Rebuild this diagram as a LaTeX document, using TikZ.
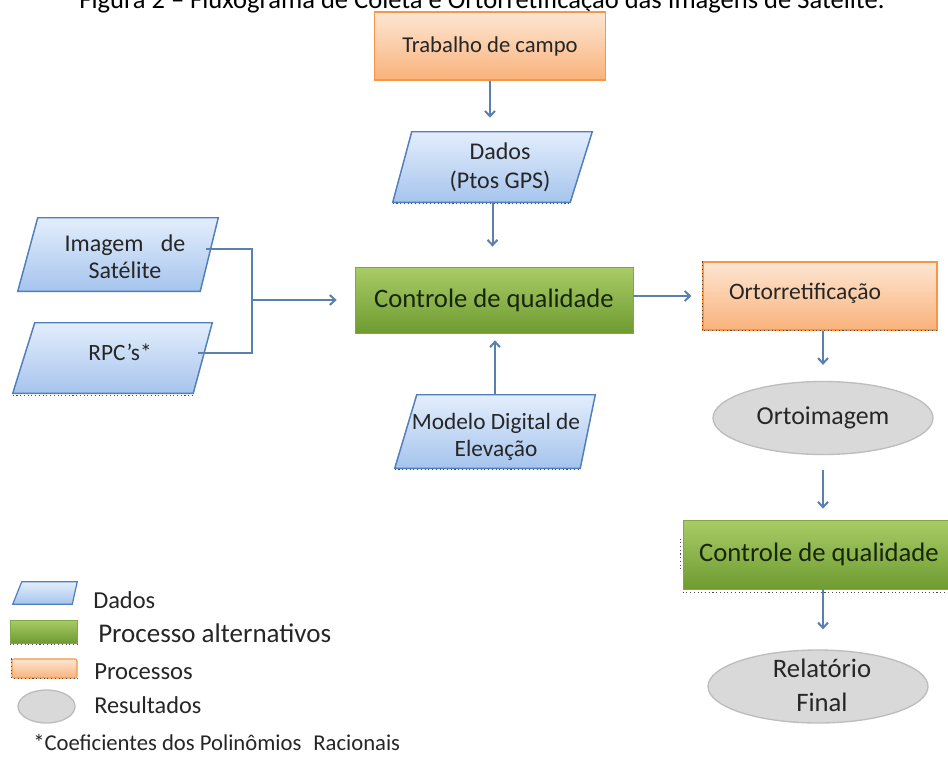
\documentclass[tikz,border=0pt]{standalone}
\usepackage{fontspec}
\setmainfont{Carlito}
\usetikzlibrary{arrows.meta,calc,shapes.geometric}
\definecolor{arrowblue}{HTML}{5A80AF}
\definecolor{bluetop}{HTML}{E3EEFC}
\definecolor{bluebot}{HTML}{A6C4ED}
\definecolor{blueline}{HTML}{4F7FBC}
\definecolor{orgtop}{HTML}{FDE6D3}
\definecolor{orgbot}{HTML}{F9B27B}
\definecolor{orgline}{HTML}{F79646}
\definecolor{grntop}{HTML}{A9CC66}
\definecolor{grnbot}{HTML}{6F9B31}
\definecolor{grnline}{HTML}{7FA843}
\definecolor{grayfill}{HTML}{D9D9D9}
\definecolor{grayline}{HTML}{BDBDBD}
\definecolor{txt}{HTML}{262626}
\definecolor{grntxt}{HTML}{17260A}
\newcommand{\pgshape}[4][1.1pt]{\path[pgfill, line width=#1] (#2.south west) -- ([xshift=-#4]#2.south east) -- (#2.north east) -- ([xshift=#3]#2.north west) -- cycle;}
\begin{document}
\begin{tikzpicture}[x=0.75pt,y=-0.75pt,
  box/.style={rectangle, inner sep=0pt, align=center, text=txt},
  procbox/.style={box, top color=orgtop, bottom color=orgbot, draw=orgline, line width=1.2pt},
  altbox/.style={box, top color=grntop, bottom color=grnbot, draw=grnline, line width=0.6pt, text=grntxt},
  resbox/.style={ellipse, inner sep=0pt, align=center, text=txt, fill=grayfill, draw=grayline, line width=1pt},
  pgbox/.style={rectangle, inner sep=0pt, draw=none},
  pgfill/.style={top color=bluetop, bottom color=bluebot, draw=blueline},
  dtext/.style={inner sep=0pt, align=center, text=txt, font=\fontsize{18pt}{21.75pt}\selectfont},
  arr/.style={draw=arrowblue, line width=1.5pt, -{Straight Barb[length=4pt,width=7.5pt]}},
  conn/.style={draw=arrowblue, line width=1.5pt},
  dotline/.style={draw=black!70, line width=0.7pt, dash pattern=on 0.8pt off 2pt},
  lbl/.style={inner sep=0pt, anchor=west, text=txt}
]
\useasboundingbox (0,0) rectangle (948,760);
\clip (0,0) rectangle (948,760);
\fill[white] (0,0) rectangle (948,760);

% title (cut by the top edge)
\node[anchor=base, inner sep=0pt, text=black, font=\fontsize{19.9pt}{24pt}\selectfont] (title) at (482,8) {Figura 2 – Fluxograma de Coleta e Ortorretificação das Imagens de Satélite.};

% central column
\node[procbox, minimum width=173.25pt, minimum height=51pt, font=\fontsize{17pt}{20pt}\selectfont] (trab) at (490,46) {Trabalho de campo};

\node[pgbox, minimum width=149.25pt, minimum height=52.5pt] (gps) at (492.5,167) {};
\pgshape{gps}{14.25pt}{16.5pt}
\node[dtext] (gpst) at (500,167.5) {Dados\\(Ptos GPS)};

\node[altbox, minimum width=208.5pt, minimum height=49.5pt, font=\fontsize{20pt}{24pt}\selectfont] (cq1) at (494,300) {Controle de qualidade};

\node[pgbox, minimum width=150pt, minimum height=54.75pt] (mde) at (495,431.5) {};
\pgshape{mde}{16.5pt}{11.25pt}
\node[dtext, font=\fontsize{17.5pt}{20.25pt}\selectfont] (mdet) at (496,436.5) {Modelo Digital de\\Elevação};

% left inputs
\node[pgbox, minimum width=150pt, minimum height=54.75pt] (img) at (118,254.5) {};
\pgshape{img}{15pt}{13.5pt}
\node[dtext, font=\fontsize{18pt}{20.25pt}\selectfont] (imgt) at (125,256.5) {Imagem\hspace{13pt}de\\Satélite};

\node[pgbox, minimum width=149.25pt, minimum height=52.5pt] (rpc) at (112.5,358) {};
\pgshape{rpc}{16.5pt}{14.25pt}
\node[dtext, font=\fontsize{17.5pt}{21pt}\selectfont] (rpct) at (120,352) {RPC’s*};

% right column
\node[procbox, line width=0.8pt, minimum width=175.5pt, minimum height=51pt] (orto) at (820,296) {};
\node[dtext, font=\fontsize{17.7pt}{21pt}\selectfont] (ortot) at (805,293) {Ortorretificação};

\node[resbox, minimum width=165pt, minimum height=54.75pt, font=\fontsize{19.4pt}{23pt}\selectfont] (oimg) at (823,418) {Ortoimagem};

\node[altbox, minimum width=204pt, minimum height=51.75pt, font=\fontsize{20pt}{24pt}\selectfont] (cq2) at (819,554.5) {Controle de qualidade};

\node[resbox, minimum width=165pt, minimum height=54.75pt] (rel) at (818,686.5) {};
\node[dtext, font=\fontsize{20pt}{25.5pt}\selectfont] (relt) at (822,685) {Relatório\\Final};

% dotted artefacts
\draw[dotline] ($(rpc.south west)+(0,2)$) -- ($(rpc.south east)+(-19,2)$);
\draw[dotline] ($(gps.south west)+(0,1.5)$) -- ($(gps.south east)+(-22,1.5)$);
\draw[dotline] ($(mde.south west)+(0,1.5)$) -- ($(mde.south east)+(-15,1.5)$);
\draw[dotline] (orto.north west) -- (orto.south west) -- (orto.south east);
\draw[dotline] ($(cq2.south west)+(0,3)$) -- ($(cq2.south east)+(0,3)$);
\draw[dotline] ($(cq2.west)+(-2,-16)$) -- ($(cq2.west)+(-2,16)$);

% connectors
\coordinate (j) at (252,300);
\draw[conn] ($(img.center)+(88,-5.5)$) -| (j) |- ($(rpc.center)+(85.5,-5)$);
\draw[arr, shorten >=13.5pt] (j) -- (j -| cq1.west);
\draw[arr, shorten >=10.5pt] (trab.south) -- (trab.south |- gps.north);
\draw[arr, shorten >=15pt] (gps.south) -- (gps.south |- cq1.north);
\draw[arr, shorten >=5.25pt] (mde.north) -- (mde.north |- cq1.south);
\draw[arr, shorten >=8.25pt] (cq1.east |- orto.west) -- (orto.west);
\draw[arr, shorten >=12pt] (oimg.center |- orto.south) -- (oimg.center |- oimg.north);
\draw[arr, shorten <=11.25pt, shorten >=8.25pt] (oimg.south) -- (oimg.south |- cq2.north);
\draw[arr, shorten >=15pt] (oimg.center |- cq2.south) -- (oimg.center |- rel.north);

% legend
\node[pgbox, minimum width=48pt, minimum height=16.5pt] (lgd) at (45,593) {};
\pgshape[0.9pt]{lgd}{6.75pt}{3.75pt}
\node[altbox, minimum width=50.25pt, minimum height=17.25pt] (lga) at (43.5,631.5) {};
\node[procbox, line width=0.8pt, rounded corners=1.5pt, minimum width=48.75pt, minimum height=14.25pt] (lgp) at (44.5,668.5) {};
\node[resbox, minimum width=42.75pt, minimum height=24.75pt] (lgr) at (46.5,706.5) {};
\draw[dotline] ($(lga.south west)+(0,1)$) -- ($(lga.south east)+(0,1)$);
\draw[dotline] (lgp.north west) -- (lgp.south west) -- (lgp.south east);

\node[lbl, font=\fontsize{18.3pt}{22pt}\selectfont] (lgdt) at (93,600) {Dados};
\node[lbl, font=\fontsize{20.25pt}{24pt}\selectfont] (lgat) at (98,633) {Processo alternativos};
\node[lbl, font=\fontsize{18.5pt}{22pt}\selectfont] (lgpt) at (94,672) {Processos};
\node[lbl, font=\fontsize{18.2pt}{22pt}\selectfont] (lgrt) at (94,705) {Resultados};
\node[lbl, font=\fontsize{17pt}{20pt}\selectfont] (note) at (33,743) {*Coeficientes dos Polinômios\hspace{9pt}Racionais};
\end{tikzpicture}
\end{document}
